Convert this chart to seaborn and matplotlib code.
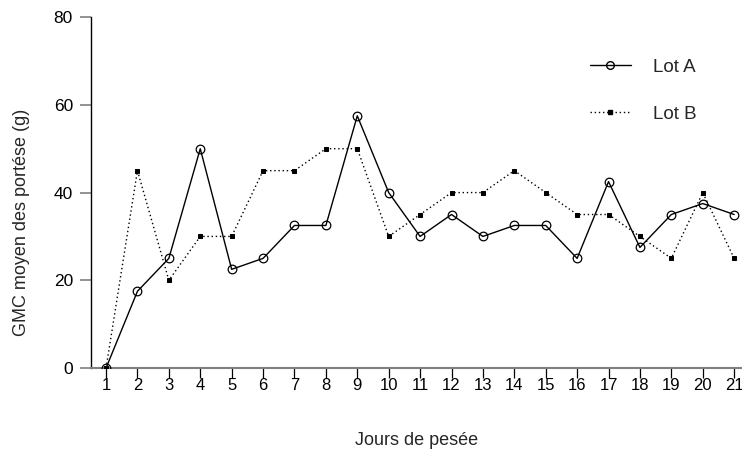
import matplotlib
matplotlib.use("Agg")
import matplotlib.pyplot as plt
from matplotlib.lines import Line2D
import seaborn as sns
import pandas as pd

# Daily weight gain per litter, two batches
days = list(range(1, 22))
lot_a = [0, 17.5, 25, 50, 22.5, 25, 32.5, 32.5, 57.5, 40, 30, 35, 30, 32.5, 32.5, 25, 42.5, 27.5, 35, 37.5, 35]
lot_b = [0, 45, 20, 30, 30, 45, 45, 50, 50, 30, 35, 40, 40, 45, 40, 35, 35, 30, 25, 40, 25]
y_ticks = [0, 20, 40, 60, 80]

sns.set_style("ticks")
plt.rcParams["font.family"] = ["Liberation Sans", "DejaVu Sans"]

df_a = pd.DataFrame({"jour": days, "gmc": lot_a})
df_b = pd.DataFrame({"jour": days, "gmc": lot_b})

fig = plt.figure(figsize=(7.42, 4.51), dpi=100)
ax = fig.add_axes([0.1226, 0.184, 0.8774, 0.778])

sns.lineplot(data=df_a, x="jour", y="gmc", ax=ax, color="black", linewidth=1.0,
             linestyle="-", marker="o", markersize=6.2, markerfacecolor="none",
             markeredgecolor="black", markeredgewidth=0.9, zorder=3)
sns.lineplot(data=df_b, x="jour", y="gmc", ax=ax, color="black", linewidth=1.0,
             linestyle=(0, (1, 2)), marker="s", markersize=3.2, markerfacecolor="black",
             markeredgecolor="black", zorder=4)

ax.set_xlim(0.52, 21.25)
ax.set_ylim(0, 80)
ax.set_xticks(days)
ax.set_xticklabels([str(d) for d in days])
ax.set_yticks(y_ticks)
ax.set_yticklabels([str(v) for v in y_ticks])

for side in ("top", "right"):
    ax.spines[side].set_visible(False)
ax.spines["left"].set_color("black")
ax.spines["left"].set_linewidth(1.0)
ax.spines["bottom"].set_color("#808080")
ax.spines["bottom"].set_linewidth(1.5)

ax.tick_params(axis="y", direction="out", length=8, width=1.2, color="#808080",
               pad=5, labelsize=12.5, labelcolor="black")
ax.tick_params(axis="x", direction="out", length=7, width=0.9, color="black",
               pad=0, labelsize=12, labelcolor="black")

ax.set_xlabel("Jours de pesée", fontsize=13, labelpad=28)
ax.set_ylabel("GMC moyen des portése (g)", fontsize=13)
ax.yaxis.set_label_coords(-0.094, 0.416)

handles = [
    Line2D([], [], color="black", linewidth=1.0, linestyle="-", marker="o",
           markersize=5.5, markerfacecolor="none", markeredgecolor="black"),
    Line2D([], [], color="black", linewidth=1.0, linestyle=(0, (1, 2)), marker="s",
           markersize=3.2, markerfacecolor="black", markeredgecolor="black"),
]
ax.legend(handles, ["Lot A", "Lot B"], loc="upper left", bbox_to_anchor=(0.74, 0.93),
          frameon=False, fontsize=13.5, handlelength=2.2, handletextpad=1.2,
          labelspacing=1.6)

fig.savefig("out.png", dpi=100)
